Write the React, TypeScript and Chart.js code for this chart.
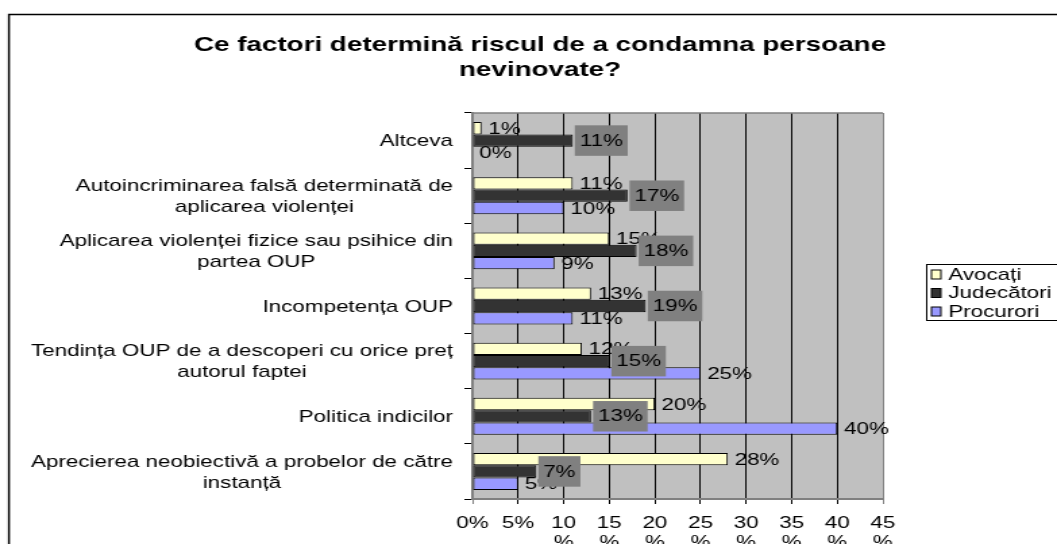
import React, { useEffect, useRef } from 'react';
import { Chart, registerables } from 'chart.js';

Chart.register(...registerables);

const titleLines = ['Ce factori determină riscul de a condamna persoane', 'nevinovate?'];

const categories = [
  ['Altceva'],
  ['Autoincriminarea falsă determinată de', 'aplicarea violenței'],
  ['Aplicarea violenței fizice sau psihice din', 'partea OUP'],
  ['Incompetența OUP'],
  ['Tendința OUP de a descoperi cu orice preț', 'autorul faptei'],
  ['Politica indicilor'],
  ['Aprecierea neobiectivă a probelor de către', 'instanță'],
];

const seriesNames = ['Avocați', 'Judecători', 'Procurori'];
const avocati = [1, 11, 15, 13, 12, 20, 28];
const judecatori = [11, 17, 18, 19, 15, 13, 7];
const procurori = [0, 10, 9, 11, 25, 40, 5];
const seriesColors = ['#FFFFCC', '#333333', '#9999FF'];

const xTicks = [0, 5, 10, 15, 20, 25, 30, 35, 40, 45];

const FONT = '"Liberation Sans", Arial, Helvetica, sans-serif';
const LABEL_SIZE = 16.6;
const W = 783;
const H = 544;

const customPlugin = {
  id: 'custom',
  beforeDraw(chart: any) {
    const { ctx, chartArea: a } = chart;
    ctx.save();
    ctx.fillStyle = '#ffffff';
    ctx.fillRect(0, 0, chart.width, chart.height);
    // outer frame
    ctx.strokeStyle = '#000000';
    ctx.lineWidth = 1.5;
    ctx.beginPath();
    ctx.moveTo(6.6, chart.height + 5);
    ctx.lineTo(6.6, 14.5);
    ctx.lineTo(chart.width + 5, 14.5);
    ctx.stroke();
    // plot background
    ctx.fillStyle = '#C0C0C0';
    ctx.fillRect(a.left, a.top, a.right - a.left, a.bottom - a.top);
    ctx.restore();
  },
  beforeDatasetsDraw(chart: any) {
    const { ctx, chartArea: a } = chart;
    ctx.save();
    ctx.strokeStyle = '#808080';
    ctx.lineWidth = 1.5;
    ctx.beginPath();
    ctx.moveTo(a.left, a.top);
    ctx.lineTo(a.right, a.top);
    ctx.stroke();
    ctx.restore();
  },
  afterDatasetsDraw(chart: any) {
    const { ctx } = chart;
    ctx.save();
    ctx.font = `${LABEL_SIZE}px ${FONT}`;
    ctx.textBaseline = 'middle';
    ctx.textAlign = 'left';
    ctx.fillStyle = '#000';
    const order = [0, 2, 1];
    order.forEach((di) => {
      const meta = chart.getDatasetMeta(di);
      const data = chart.data.datasets[di].data;
      meta.data.forEach((bar: any, i: number) => {
        const txt = `${data[i]}%`;
        if (di === 1) {
          const tw = ctx.measureText(txt).width;
          const pad = 3.6;
          const bx = bar.x + 1.5;
          const bh = 30.5;
          ctx.fillStyle = '#808080';
          ctx.fillRect(bx, bar.y - bh / 2, tw + pad * 2, bh);
          ctx.fillStyle = '#000';
          ctx.fillText(txt, bx + pad, bar.y + 0.5);
        } else {
          ctx.fillStyle = '#000';
          ctx.fillText(txt, bar.x + 5, bar.y + 1);
        }
      });
    });
    ctx.restore();
  },
  afterDraw(chart: any) {
    const { ctx } = chart;
    ctx.save();
    // title
    ctx.fillStyle = '#000';
    ctx.font = `bold 20.6px ${FONT}`;
    ctx.textAlign = 'center';
    ctx.textBaseline = 'alphabetic';
    titleLines.forEach((t, i) => ctx.fillText(t, 400, 51 + i * 25));

    // category labels
    const yScale = chart.scales.y;
    ctx.font = `${LABEL_SIZE}px ${FONT}`;
    ctx.textBaseline = 'middle';
    const right = 335.6;
    const lh = 21;
    (chart.data.labels as string[][]).forEach((lines, i) => {
      const y = yScale.getPixelForValue(i);
      const maxW = Math.max(...lines.map((l) => ctx.measureText(l).width));
      const cx = right - maxW / 2;
      const y0 = y - ((lines.length - 1) * lh) / 2 + 1;
      lines.forEach((l, k) => ctx.fillText(l, cx, y0 + k * lh));
    });

    // legend
    ctx.strokeStyle = '#000';
    ctx.lineWidth = 1;
    ctx.strokeRect(686.5, 264.5, 200, 56);
    ctx.textAlign = 'left';
    chart.data.datasets.forEach((ds: any, i: number) => {
      const y = 274.5 + i * 18.5;
      ctx.fillStyle = ds.backgroundColor;
      ctx.fillRect(690, y - 4.5, 7, 9);
      ctx.strokeRect(690, y - 4.5, 7, 9);
      ctx.fillStyle = '#000';
      ctx.fillText(ds.label, 702.5, y + 0.5);
    });
    ctx.restore();
  },
};

export default function App() {
  const ref = useRef<HTMLCanvasElement | null>(null);
  useEffect(() => {
    if (!ref.current) return;
    const values = [avocati, judecatori, procurori];
    const chart = new Chart(ref.current, {
      type: 'bar',
      data: {
        labels: categories as any,
        datasets: seriesNames.map((name, i) => ({
          label: name,
          data: values[i],
          backgroundColor: seriesColors[i],
          borderColor: '#000000',
          borderWidth: 1,
          borderSkipped: false,
          categoryPercentage: 0.67,
          barPercentage: 1,
        })),
      },
      options: {
        indexAxis: 'y',
        responsive: false,
        animation: false,
        devicePixelRatio: 1,
        events: [],
        layout: { padding: { left: 0, top: 113, right: 129, bottom: 0 } },
        plugins: {
          legend: { display: false },
          title: { display: false },
          tooltip: { enabled: false },
        },
        scales: {
          x: {
            type: 'linear',
            position: 'bottom',
            min: 0,
            max: 45,
            afterBuildTicks: (s: any) => {
              s.ticks = xTicks.map((v) => ({ value: v }));
            },
            afterFit: (s: any) => {
              s.height = 45;
            },
            ticks: {
              autoSkip: false,
              maxRotation: 0,
              minRotation: 0,
              padding: 9,
              color: '#000',
              font: { family: FONT, size: LABEL_SIZE },
              callback: (v: any) => (Number(v) < 10 ? `${v}%` : [`${v}`, '%']),
            },
            grid: {
              color: (c: any) =>
                c.tick && (c.tick.value === 45 || c.tick.value === 0) ? '#808080' : '#000000',
              lineWidth: 1,
              tickLength: 5,
              drawTicks: true,
            },
            border: { color: '#808080', width: 2 },
          },
          y: {
            type: 'category',
            afterFit: (s: any) => {
              s.width = 350;
            },
            ticks: { display: false },
            grid: {
              drawOnChartArea: false,
              drawTicks: true,
              tickLength: 6,
              color: '#000000',
              offset: true,
            },
            border: { color: '#808080', width: 2 },
          },
        },
      },
      plugins: [customPlugin],
    } as any);
    return () => chart.destroy();
  }, []);

  return (
    <div style={{ position: 'fixed', left: 0, top: 0, width: 1057, height: 544, overflow: 'hidden', background: '#fff' }}>
      <canvas
        ref={ref}
        width={W}
        height={H}
        style={{ width: '1057px', height: '544px', display: 'block' }}
      />
    </div>
  );
}
